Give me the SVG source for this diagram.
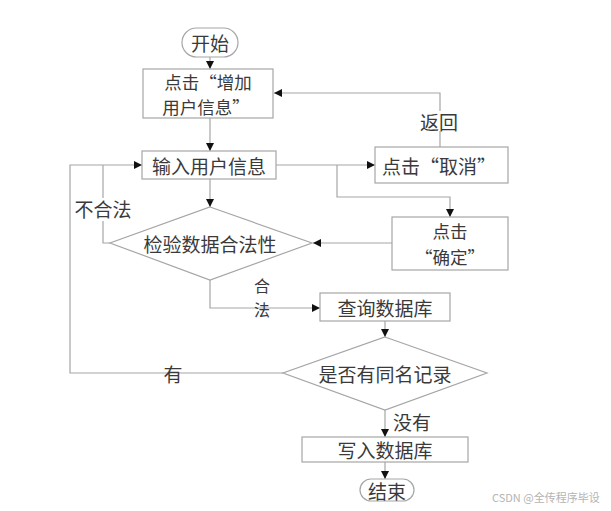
<svg xmlns="http://www.w3.org/2000/svg" width="611" height="511" viewBox="0 0 611 511">
<style>
.shape{fill:#fff;stroke:#a6a6a6;stroke-width:1.2}
.ln{fill:none;stroke:#a6a6a6;stroke-width:1.2}
.t{font-family:"Noto Sans CJK SC","Liberation Sans",sans-serif;font-size:19px;fill:#3a3a3a;text-anchor:middle;dominant-baseline:central}
.t2{font-size:17.5px}
.wm{font-family:"Noto Sans CJK SC","Liberation Sans",sans-serif;font-size:11px;fill:#b4b4b4;dominant-baseline:central}
</style>
<defs>
<marker id="ah" viewBox="0 0 10 10" refX="10" refY="5" markerWidth="8" markerHeight="8" markerUnits="userSpaceOnUse" orient="auto">
<path d="M0,0 L10,5 L0,10 Z" fill="#111"/>
</marker>
</defs>
<rect width="611" height="511" fill="#fff"/>
<g id="connectors">
<path class="ln" d="M210,57 V69" marker-end="url(#ah)"/>
<path class="ln" d="M210,118 V151" marker-end="url(#ah)"/>
<path class="ln" d="M276,165 H375" marker-end="url(#ah)"/>
<path class="ln" d="M337,165 V197 H450 V217" marker-end="url(#ah)"/>
<path class="ln" d="M440,147 V131"/>
<path class="ln" d="M440,111 V93 H274" marker-end="url(#ah)"/>
<path class="ln" d="M210,179 V207" marker-end="url(#ah)"/>
<path class="ln" d="M392,243 H313" marker-end="url(#ah)"/>
<path class="ln" d="M110,243 H103 V221"/>
<path class="ln" d="M103,198 V165"/>
<path class="ln" d="M283,373 H70 V165 H142" marker-end="url(#ah)"/>
<path class="ln" d="M210,280 V308 H320" marker-end="url(#ah)"/>
<path class="ln" d="M385,321 V337" marker-end="url(#ah)"/>
<path class="ln" d="M385,410 V437" marker-end="url(#ah)"/>
<path class="ln" d="M385,462 V479" marker-end="url(#ah)"/>
<text class="t" x="439" y="121">返回</text>
<text class="t" x="103" y="208">不合法</text>
<text class="t" x="262" y="285" style="font-size:16px">合</text>
<text class="t" x="262" y="309" style="font-size:16px">法</text>
<text class="t" x="173" y="373">有</text>
<text class="t" x="412" y="421">没有</text>
</g>
<g id="start">
<rect class="shape" x="182" y="28" width="56" height="29" rx="14.5"/>
<text class="t" x="210" y="42.5">开始</text>
</g>
<g id="click-add">
<rect class="shape" x="143" y="69" width="130" height="49"/>
<text class="t t2" x="208" y="81">点击“增加</text>
<text class="t t2" x="206" y="106.5">用户信息”</text>
</g>
<g id="input">
<rect class="shape" x="142" y="151" width="134" height="28"/>
<text class="t" x="209" y="165">输入用户信息</text>
</g>
<g id="click-cancel">
<rect class="shape" x="375" y="147" width="133" height="36"/>
<text class="t" x="439" y="165">点击“取消”</text>
</g>
<g id="click-ok">
<rect class="shape" x="392" y="217" width="116" height="53"/>
<text class="t t2" x="450" y="230.5">点击</text>
<text class="t t2" x="450" y="256">“确定”</text>
</g>
<g id="validate">
<polygon class="shape" points="210,207 312,243 210,280 110,243"/>
<text class="t" x="210" y="243">检验数据合法性</text>
</g>
<g id="query">
<rect class="shape" x="320" y="293" width="130" height="28"/>
<text class="t" x="385" y="307">查询数据库</text>
</g>
<g id="dup">
<polygon class="shape" points="385,337 487,373 385,410 283,373"/>
<text class="t" x="385" y="373">是否有同名记录</text>
</g>
<g id="write">
<rect class="shape" x="302" y="437" width="166" height="25"/>
<text class="t" x="385" y="449.5">写入数据库</text>
</g>
<g id="end">
<rect class="shape" x="360" y="479" width="54" height="22" rx="11"/>
<text class="t" x="387" y="490">结束</text>
</g>
<text class="wm" x="492" y="497">CSDN @全传程序毕设</text>
</svg>
